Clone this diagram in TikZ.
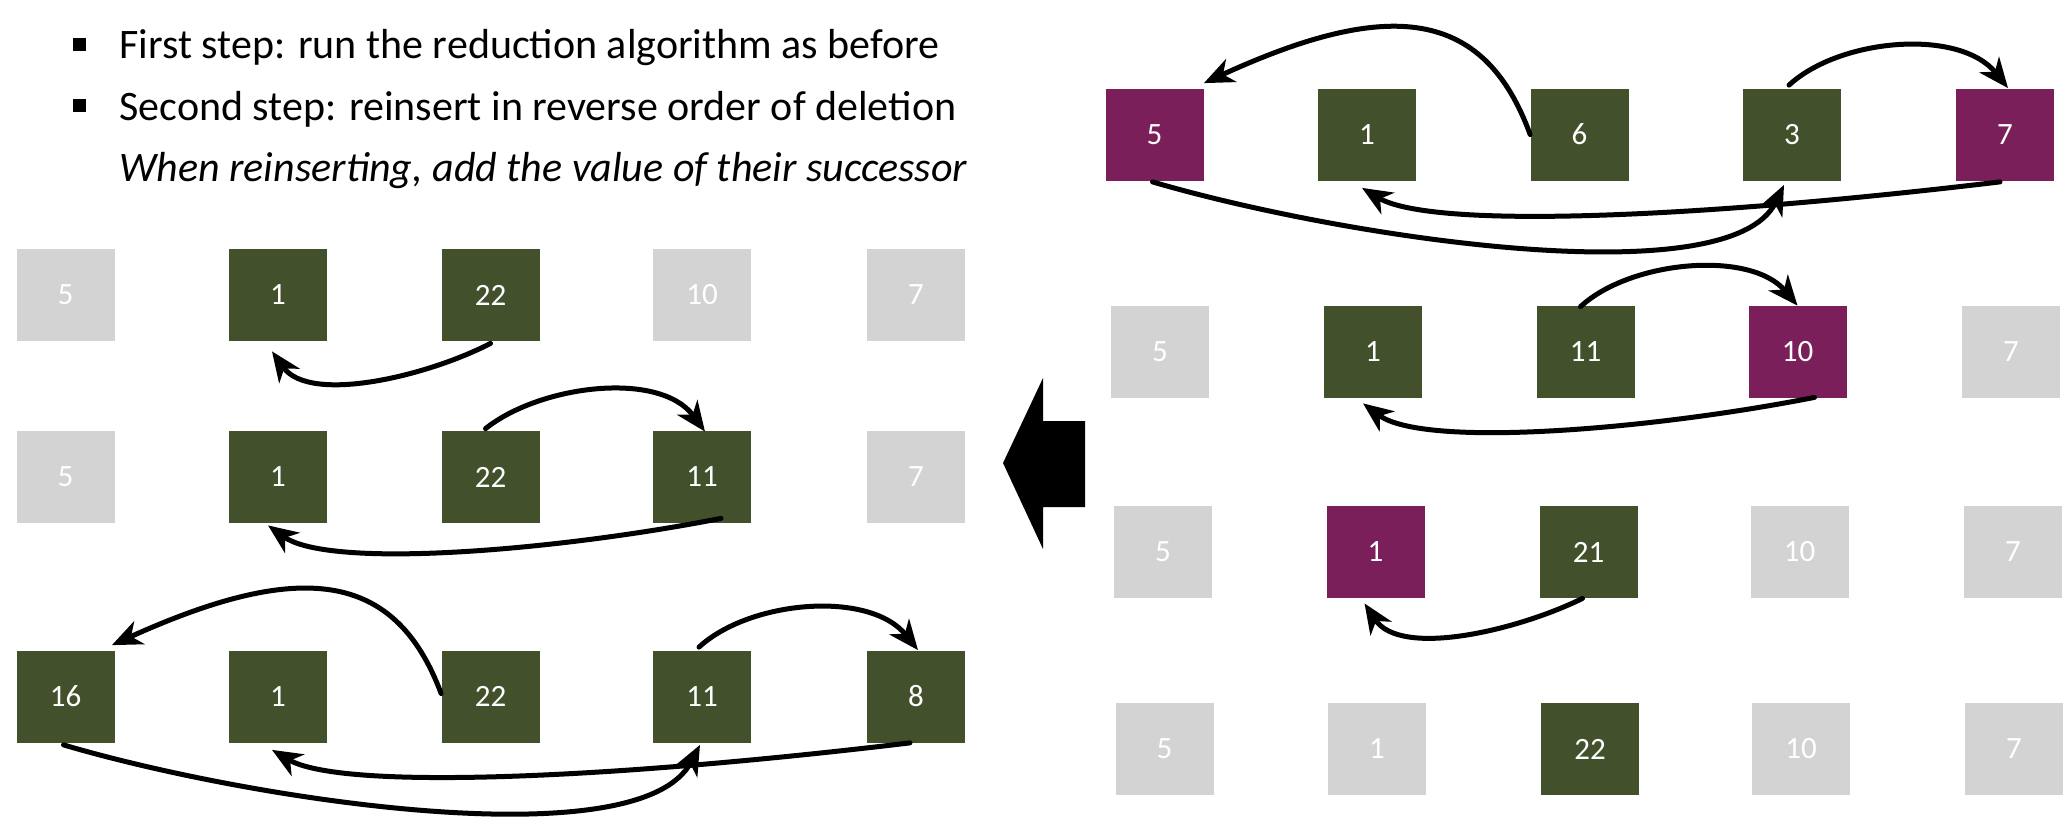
\documentclass[tikz,border=0pt]{standalone}
\usepackage{fontspec}
\setmainfont{Carlito}
\usetikzlibrary{arrows.meta}

\definecolor{olivebox}{RGB}{67,80,44}
\definecolor{plumbox}{RGB}{123,31,90}
\definecolor{greybox}{RGB}{211,211,211}

\tikzset{every picture/.style={line width=0.75pt}}
\tikzset{
  numbox/.style={rectangle, minimum width=98pt, minimum height=92pt, inner sep=0pt,
    text=white, font=\fontsize{31pt}{37pt}\selectfont},
  grnbox/.style={numbox, fill=olivebox},
  prpbox/.style={numbox, fill=plumbox},
  grybox/.style={numbox, fill=greybox},
  link/.style={line width=5pt, line cap=round, -{Stealth[length=30pt,width=25pt,inset=9pt]}},
  bullettext/.style={anchor=base west, inner sep=0pt, font=\fontsize{42pt}{50pt}\selectfont},
  bulletmark/.style={rectangle, fill=black, minimum size=13pt, inner sep=0pt}
}

\begin{document}
\begin{tikzpicture}[x=1pt,y=1pt,yscale=-1,xscale=1]
\useasboundingbox (0,0) rectangle (2070,831);

%Text: bullets
\node [bulletmark] (bul1) at (79,44) {};
\node [bulletmark] (bul2) at (79,105) {};
\node [bullettext] (txt1) at (119,58.5) {First step: run the reduction algorithm as before};
\node [bullettext] (txt2) at (119,120.5) {Second step: reinsert in reverse order of deletion};
\node [bullettext] (txt3) at (119,181) {\itshape When reinserting, add the value of their successor};

%Shape: Rectangles, left row 1
\node [grybox] (l1a) at (65.5,295) {5};
\node [grnbox] (l1b) at (278,295) {1};
\node [grnbox] (l1c) at (490.5,295) {22};
\node [grybox] (l1d) at (702,295) {10};
\node [grybox] (l1e) at (916,295) {7};
%Shape: Rectangles, left row 2
\node [grybox] (l2a) at (65.5,477) {5};
\node [grnbox] (l2b) at (278,477) {1};
\node [grnbox] (l2c) at (490.5,477) {22};
\node [grnbox] (l2d) at (702,477) {11};
\node [grybox] (l2e) at (916,477) {7};
%Shape: Rectangles, left row 3
\node [grnbox] (l3a) at (65.5,696.5) {16};
\node [grnbox] (l3b) at (278,696.5) {1};
\node [grnbox] (l3c) at (490.5,696.5) {22};
\node [grnbox] (l3d) at (702,696.5) {11};
\node [grnbox] (l3e) at (916,696.5) {8};

%Shape: Rectangles, right row 1
\node [prpbox] (r1a) at (1154.5,134.5) {5};
\node [grnbox] (r1b) at (1367,134.5) {1};
\node [grnbox] (r1c) at (1579.5,134.5) {6};
\node [grnbox] (r1d) at (1792,134.5) {3};
\node [prpbox] (r1e) at (2005,134.5) {7};
%Shape: Rectangles, right row 2
\node [grybox] (r2a) at (1160,352) {5};
\node [grnbox] (r2b) at (1373,352) {1};
\node [grnbox] (r2c) at (1585.5,352) {11};
\node [prpbox] (r2d) at (1797.5,352) {10};
\node [grybox] (r2e) at (2011,352) {7};
%Shape: Rectangles, right row 3
\node [grybox] (r3a) at (1163,552) {5};
\node [prpbox] (r3b) at (1375.5,552) {1};
\node [grnbox] (r3c) at (1588.5,552) {21};
\node [grybox] (r3d) at (1799.5,552) {10};
\node [grybox] (r3e) at (2013,552) {7};
%Shape: Rectangles, right row 4
\node [grybox] (r4a) at (1164.5,749) {5};
\node [grybox] (r4b) at (1377,749) {1};
\node [grnbox] (r4c) at (1590,749) {22};
\node [grybox] (r4d) at (1801,749) {10};
\node [grybox] (r4e) at (2014,749) {7};

%Shape: Block arrow
\fill [black] (1003,463) -- (1043,378) -- (1043,421) -- (1085,421) -- (1085,507) -- (1043,507) -- (1043,549) -- cycle ;

%Curve Lines, right row 1
\draw [link] (r1c.west) .. controls (1484,8) and (1389,-2) .. ([shift={(0,-5)}]r1a.north east) ;
\draw [link] ([shift={(-3,-3)}]r1d.north) .. controls (1840,38) and (1960,28) .. ([shift={(3,0)}]r1e.north) ;
\draw [link] ([shift={(-2,1)}]r1a.south) .. controls (1340,237) and (1730,297) .. ([shift={(-8,4)}]r1d.south) ;
\draw [link] ([shift={(-5,1)}]r1e.south) .. controls (1690,219) and (1430,229) .. ([shift={(-5,7)}]r1b.south) ;
%Curve Lines, right row 2
\draw [link] ([shift={(-5,1)}]r2c.north) .. controls (1631,260) and (1751,250) .. (r2d.north) ;
\draw [link] ([shift={(17,-1)}]r2d.south) .. controls (1654,429) and (1424,449) .. ([shift={(-10,5)}]r2b.south) ;
%Curve Lines, right row 3
\draw [link] ([shift={(-6,0)}]r3c.south) .. controls (1521,629) and (1401,659) .. ([shift={(-11,5)}]r3b.south) ;

%Curve Lines, left row 1
\draw [link] ([shift={(0,2)}]l1c.south) .. controls (430,375) and (310,405) .. ([shift={(-6,10)}]l1b.south) ;
%Curve Lines, left row 2
\draw [link] ([shift={(-5,-2)}]l2c.north) .. controls (540,385) and (660,370) .. ([shift={(3,1)}]l2d.north) ;
\draw [link] ([shift={(19,-5)}]l2d.south) .. controls (560,550) and (330,570) .. ([shift={(-10,2)}]l2b.south) ;
%Curve Lines, left row 3
\draw [link] ([shift={(0,-3)}]l3c.west) .. controls (395,570) and (300,560) .. ([shift={(-3,-5)}]l3a.north east) ;
\draw [link] ([shift={(-3,-3)}]l3d.north) .. controls (750,600) and (870,590) .. ([shift={(2,0)}]l3e.north) ;
\draw [link] ([shift={(-2,2)}]l3a.south) .. controls (250,800) and (640,860) .. ([shift={(-2,2)}]l3d.south) ;
\draw [link] ([shift={(-6,0)}]l3e.south) .. controls (600,780) and (340,790) .. ([shift={(-6,7)}]l3b.south) ;

\end{tikzpicture}
\end{document}
